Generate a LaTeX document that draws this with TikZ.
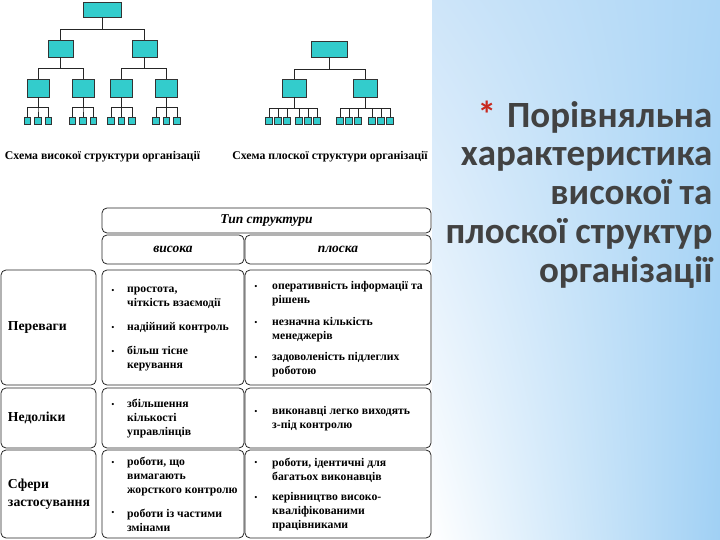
\documentclass[tikz,border=0pt]{standalone}
\usepackage{fontspec}
\setmainfont{Liberation Serif}
\newfontfamily\titlefont{Carlito}
\usetikzlibrary{shadings}

\definecolor{unitfill}{RGB}{51,204,204}
\definecolor{starred}{RGB}{200,40,30}
\definecolor{titlegray}{RGB}{66,66,66}
\definecolor{skytopleft}{RGB}{206,229,249}
\definecolor{skytopright}{RGB}{172,214,246}
\definecolor{skybotright}{RGB}{160,208,244}

\tikzset{
  unit/.style={draw=black!80, fill=unitfill, line width=0.7pt, inner sep=0pt},
  leaf/.style={unit, minimum width=6.5, minimum height=6.5},
  link/.style={draw=black!85, line width=0.8pt},
  cell/.style={draw=black!85, line width=0.8pt, rounded corners=5pt, inner sep=0pt},
  head/.style={cell, font=\bfseries\itshape\fontsize{13.5}{15}\selectfont},
  rowhead/.style={cell, minimum width=95, text width=81, inner xsep=7, align=left,
    font=\bfseries\fontsize{13.7}{18}\selectfont},
  dot/.style={inner sep=0pt, font=\fontsize{9}{10}\selectfont},
  item/.style={anchor=west, align=left, inner sep=0pt, font=\bfseries\fontsize{11.7}{14}\selectfont},
  caption/.style={inner sep=0pt, font=\bfseries\fontsize{11.8}{13}\selectfont}
}

\begin{document}
\begin{tikzpicture}[x=1pt, y=-1pt]
  \useasboundingbox (0,0) rectangle (720,540);
  \shade[upper left=skytopleft, upper right=skytopright,
         lower left=white, lower right=skybotright]
    (432,0) rectangle (720,540);

  % title
  \node[anchor=north east, align=right, text=titlegray, inner sep=0pt,
        font=\titlefont\bfseries\fontsize{37}{38.8}\selectfont] (title) at (712.5,100.5)
    {{\color{starred}*}\hspace{0.3em}Порівняльна\\характеристика\\високої та\\плоскої структур\\організації};

  % tall structure
  \node[unit, minimum width=38, minimum height=15] (hi) at (102,9.5) {};
  \node[unit, minimum width=25, minimum height=17] (hi-a) at (60.5,48.5) {};
  \node[unit, minimum width=25, minimum height=17] (hi-b) at (144.5,48.5) {};
  \draw[link] (hi.south) -- ++(0,12) -| (hi-a.north);
  \draw[link] (hi.south) -- ++(0,12) -| (hi-b.north);
  \foreach \n/\p/\x in {a1/a/38, a2/a/83, b1/b/121.5, b2/b/166.5} {
    \node[unit, minimum width=22, minimum height=18] (hi-\n) at (\x,88) {};
    \draw[link] (hi-\p.south) -- ++(0,11) -| (hi-\n.north);
    \foreach \k/\dx in {1/-10.5, 2/0, 3/10.5} {
      \node[leaf] (hi-\n-\k) at (\x+\dx,121) {};
      \draw[link] (hi-\n.south) -- ++(0,10) -| (hi-\n-\k.north);
    }
  }
  \node[caption] (hi-cap) at (102.5,157) {Схема високої структури організації};

  % flat structure
  \node[unit, minimum width=36, minimum height=16] (fl) at (329,49) {};
  \node[unit, minimum width=24, minimum height=18] (fl-a) at (294,88) {};
  \node[unit, minimum width=24, minimum height=18] (fl-b) at (365,88) {};
  \draw[link] (fl.south) -- ++(0,12) -| (fl-a.north);
  \draw[link] (fl.south) -- ++(0,12) -| (fl-b.north);
  \foreach \k/\x in {1/269, 2/278, 3/287, 4/299, 5/308, 6/317} {
    \node[leaf] (fl-a-\k) at (\x,121) {};
    \draw[link] (fl-a.south) -- ++(0,11) -| (fl-a-\k.north);
  }
  \foreach \k/\x in {1/340, 2/349, 3/358, 4/372, 5/381, 6/390} {
    \node[leaf] (fl-b-\k) at (\x,121) {};
    \draw[link] (fl-b.south) -- ++(0,11) -| (fl-b-\k.north);
  }
  \node[caption] (fl-cap) at (330,157) {Схема плоскої структури організації};

  % comparison table
  \node[head, minimum width=329, minimum height=25] (kind) at (266.5,220.5) {Тип структури};
  \node[head, minimum width=142, minimum height=29] (high) at (173,249.5) {висока};
  \node[head, minimum width=186, minimum height=29] (flat) at (338,249.5) {плоска};

  \node[rowhead, minimum height=115] (adv) at (48.5,327.5) {Переваги};
  \node[cell, minimum width=142, minimum height=115] (adv-hi) at (173,327.5) {};
  \node[cell, minimum width=186, minimum height=115] (adv-fl) at (338,327.5) {};
  \node[rowhead, minimum height=60] (dis) at (48.5,418) {Недоліки};
  \node[cell, minimum width=142, minimum height=60] (dis-hi) at (173,418) {};
  \node[cell, minimum width=186, minimum height=60] (dis-fl) at (338,418) {};
  \node[rowhead, minimum height=88] (use) at (48.5,494) {Сфери\\застосування};
  \node[cell, minimum width=142, minimum height=88] (use-hi) at (173,494) {};
  \node[cell, minimum width=186, minimum height=88] (use-fl) at (338,494) {};

  % advantages
  \node[dot] (adv-hi-1d) at (113,291) {•};
  \node[item] (adv-hi-1) at (127,298) {простота,\\чіткість взаємодії};
  \node[dot] (adv-hi-2d) at (113,328) {•};
  \node[item] (adv-hi-2) at (127,328) {надійний контроль};
  \node[dot] (adv-hi-3d) at (113,352) {•};
  \node[item] (adv-hi-3) at (127,359) {більш тісне\\керування};
  \node[dot] (adv-fl-1d) at (256,287) {•};
  \node[item] (adv-fl-1) at (272,294) {оперативність інформації та\\рішень};
  \node[dot] (adv-fl-2d) at (256,323) {•};
  \node[item] (adv-fl-2) at (272,330) {незначна кількість\\менеджерів};
  \node[dot] (adv-fl-3d) at (256,358) {•};
  \node[item] (adv-fl-3) at (272,365) {задоволеність підлеглих\\роботою};

  % drawbacks
  \node[dot] (dis-hi-1d) at (113,405) {•};
  \node[item] (dis-hi-1) at (127,419) {збільшення\\кількості\\управлінців};
  \node[dot] (dis-fl-1d) at (256,412) {•};
  \node[item] (dis-fl-1) at (272,419) {виконавці легко виходять\\з-під контролю};

  % areas of use
  \node[dot] (use-hi-1d) at (113,463) {•};
  \node[item] (use-hi-1) at (127,477) {роботи, що\\вимагають\\жорсткого контролю};
  \node[dot] (use-hi-2d) at (113,513) {•};
  \node[item] (use-hi-2) at (127,520) {роботи із частими\\змінами};
  \node[dot] (use-fl-1d) at (256,463) {•};
  \node[item] (use-fl-1) at (272,470) {роботи, ідентичні для\\багатьох виконавців};
  \node[dot] (use-fl-2d) at (256,498) {•};
  \node[item] (use-fl-2) at (272,512) {керівництво високо-\\кваліфікованими\\працівниками};
\end{tikzpicture}
\end{document}
